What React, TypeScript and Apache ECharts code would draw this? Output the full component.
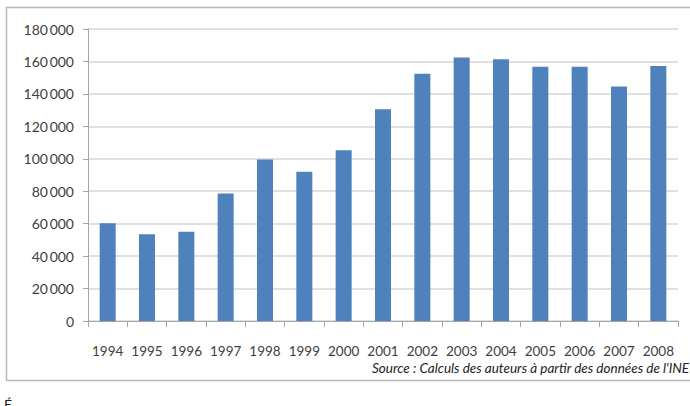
import React, { useEffect, useRef } from "react";
import * as echarts from "echarts";

const years = ["1994","1995","1996","1997","1998","1999","2000","2001","2002","2003","2004","2005","2006","2007","2008"];
const values = [60200, 53400, 55000, 78600, 99600, 92000, 105200, 130600, 152400, 162500, 161400, 156800, 156800, 144500, 157200];
const yTicks = { min: 0, max: 180000, interval: 20000 };
const sourceText = "Source : Calculs des auteurs à partir des données de l'INED";

function fmt(v: number): string {
  if (v === 0) return "0";
  const s = String(v);
  return s.slice(0, s.length - 3) + "\u2009" + s.slice(s.length - 3);
}

export default function App() {
  const ref = useRef<HTMLDivElement>(null);
  useEffect(() => {
    if (!ref.current) return;
    const chart = echarts.init(ref.current, null, { renderer: "svg" });
    chart.setOption({
      animation: false,
      backgroundColor: "#ffffff",
      textStyle: { fontFamily: "Lato" },
      grid: { left: 88, right: 12, top: 29, bottom: 85, containLabel: false },
      xAxis: {
        type: "category",
        data: years,
        axisLine: { lineStyle: { color: "#a6a6a6", width: 1 } },
        axisTick: { show: true, length: 6, lineStyle: { color: "#a6a6a6" }, alignWithLabel: false },
        axisLabel: { color: "#404040", fontSize: 13.5, margin: 23, interval: 0, fontFamily: "Lato" },
      },
      yAxis: {
        type: "value",
        min: yTicks.min,
        max: yTicks.max,
        interval: yTicks.interval,
        axisLine: { show: true, lineStyle: { color: "#a6a6a6", width: 1 } },
        axisTick: { show: true, length: 5, lineStyle: { color: "#a6a6a6" } },
        splitLine: { lineStyle: { color: "#d6d6d6", width: 1.5 } },
        axisLabel: { color: "#404040", fontSize: 14, margin: 14, fontFamily: "Lato", formatter: (v: number) => fmt(v) },
      },
      series: [
        {
          type: "bar",
          data: values,
          barWidth: 16,
          itemStyle: { color: "#4f81bd" },
        },
      ],
      graphic: [
        {
          type: "rect",
          shape: { x: 6.5, y: 7.5, width: 720, height: 373 },
          style: { fill: "none", stroke: "#b8b8b8", lineWidth: 1.5 },
          silent: true,
        },
        {
          type: "text",
          x: 372,
          y: 368,
          style: { text: sourceText, fill: "#222222", font: "italic 13.5px Lato", verticalAlign: "middle" },
        },
        {
          type: "text",
          x: 4,
          y: 397,
          style: { text: "É", fill: "#222222", font: "14px Lato" },
        },
      ],
    });
    return () => chart.dispose();
  }, []);
  return <div ref={ref} style={{ position: "fixed", left: 0, top: 0, width: 690, height: 406 }} />;
}
